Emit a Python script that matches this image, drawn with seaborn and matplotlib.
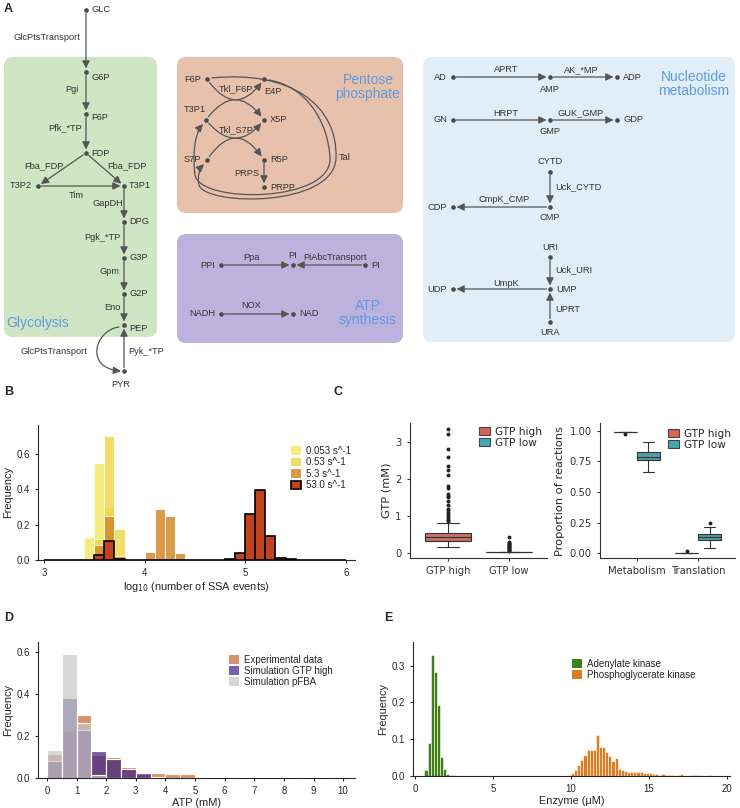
import numpy as np
import pandas as pd
import matplotlib
matplotlib.use("Agg")
import matplotlib.pyplot as plt
import seaborn as sns
from matplotlib.patches import FancyBboxPatch, FancyArrowPatch, Patch
from matplotlib.path import Path

# ---------------- data ----------------
# B: frequency of log10(number of SSA events), bins of 0.1 (left edges)
rate_labels = ["0.053 s^-1", "0.53 s^-1", "5.3 s^-1", "53.0 s^-1"]
rate0053_left = [3.3, 3.4, 3.5, 3.6]
rate0053_freq = [0.012, 0.13, 0.55, 0.30]
rate053_left = [3.5, 3.6, 3.7]
rate053_freq = [0.12, 0.70, 0.175]
rate53_left = [3.5, 3.6, 3.7, 4.0, 4.1, 4.2, 4.3]
rate53_freq = [0.085, 0.25, 0.025, 0.045, 0.29, 0.25, 0.04]
rate530_left = [3.5, 3.6, 3.7, 4.8, 4.9, 5.0, 5.1, 5.2, 5.3, 5.4]
rate530_freq = [0.03, 0.11, 0.005, 0.008, 0.04, 0.26, 0.395, 0.135, 0.012, 0.003]

# C left: GTP concentration (mM)
gtp_high_vals = [0.15, 0.22, 0.28, 0.33, 0.38, 0.42, 0.47, 0.53, 0.62, 0.72, 0.81]
gtp_high_counts = [1, 5, 8, 14, 10, 16, 10, 14, 1, 1, 1]
gtp_high_outliers = [0.86, 0.9, 0.95, 1.0, 1.05, 1.1, 1.15, 1.2, 1.3, 1.4, 1.5,
                     1.55, 1.6, 1.75, 1.8, 2.1, 2.25, 2.35, 2.6, 2.8, 3.2, 3.35]
gtp_low_vals = [0.015, 0.02, 0.025]
gtp_low_counts = [30, 40, 30]
gtp_low_outliers = [0.05, 0.07, 0.09, 0.11, 0.13, 0.15, 0.17, 0.19, 0.21, 0.23,
                    0.25, 0.27, 0.29, 0.42]

# C right: proportion of reactions
met_high = [0.975] + [0.99] * 15
met_low = [0.66, 0.70, 0.74, 0.76, 0.76, 0.77, 0.78, 0.79, 0.79, 0.80, 0.81,
           0.83, 0.83, 0.85, 0.88, 0.91]
trans_high = [0.02] + [0.005] * 15
trans_low = [0.04, 0.07, 0.09, 0.11, 0.11, 0.12, 0.12, 0.13, 0.13, 0.14, 0.15,
             0.16, 0.16, 0.18, 0.21, 0.245]

# D: ATP (mM), bins of 0.5
atp_labels = ["Experimental data", "Simulation GTP high", "Simulation pFBA"]
atp_exp_left = [0, 0.5, 1, 1.5, 2, 2.5, 3, 3.5, 4, 4.5, 6, 8.5, 9]
atp_exp_freq = [0.115, 0.225, 0.30, 0.11, 0.10, 0.053, 0.02, 0.022, 0.018, 0.017,
                0.003, 0.003, 0.003]
atp_high_left = [0, 0.5, 1, 1.5, 2, 2.5, 3, 3.5, 4]
atp_high_freq = [0.08, 0.38, 0.23, 0.13, 0.09, 0.045, 0.025, 0.007, 0.002]
atp_pfba_left = [0, 0.5, 1, 1.5]
atp_pfba_freq = [0.135, 0.59, 0.26, 0.012]

# E: enzyme (uM), bins of 0.2
enz_labels = ["Adenylate kinase", "Phosphoglycerate kinase"]
ak_left = [0.6, 0.8, 1.0, 1.2, 1.4, 1.6, 1.8, 2.0, 2.2, 2.4]
ak_freq = [0.015, 0.09, 0.33, 0.283, 0.193, 0.052, 0.018, 0.006, 0.002, 0.003]
pgk_freq = [0.003, 0.008, 0.017, 0.030, 0.044, 0.058, 0.070, 0.071, 0.071, 0.111,
            0.078, 0.078, 0.066, 0.053, 0.040, 0.048, 0.018, 0.015, 0.013, 0.011,
            0.011, 0.011, 0.010, 0.010, 0.009, 0.007, 0.008, 0.005, 0.006, 0.004,
            0.005, 0.003, 0.003, 0.002, 0.001, 0.002, 0.005, 0.001, 0.000, 0.004,
            0.004, 0.003, 0.002, 0.001, 0.001, 0.002, 0.001, 0.000, 0.001, 0.001]
pgk_left = list(np.round(9.8 + 0.2 * np.arange(len(pgk_freq)), 2))

# A: pathway diagram (node positions in pixels of the top panel)
nodes = {
    "GLC": (86, 10), "G6P": (86, 72), "F6P": (86, 114), "FDP": (86, 153),
    "T3P2": (38, 186), "T3P1": (124, 186), "DPG": (124, 222), "G3P": (124, 258),
    "G2P": (124, 294), "PEP": (124, 325), "PYR": (124, 371),
    "F6P_pp": (207, 79), "E4P": (264, 79), "T3P1_pp": (206, 120), "X5P": (264, 120),
    "S7P": (207, 160), "R5P": (264, 160), "PRPP": (264, 187),
    "PPI": (221, 265), "PI_c": (293, 265), "PI_r": (365, 265),
    "NADH": (221, 314), "NAD": (293, 314),
    "AD": (453, 77), "AMP": (550, 77), "ADP": (617, 77),
    "GN": (453, 120), "GMP": (550, 120), "GDP": (617, 120),
    "CYTD": (550, 172), "CMP": (550, 207), "CDP": (453, 207),
    "URI": (550, 257), "UMP": (550, 289), "UDP": (453, 289), "URA": (550, 322),
}
straight_edges = [
    ("GLC", "G6P"), ("G6P", "F6P"), ("F6P", "FDP"), ("FDP", "T3P2"), ("FDP", "T3P1"),
    ("T3P2", "T3P1"), ("T3P1", "DPG"), ("DPG", "G3P"), ("G3P", "G2P"), ("G2P", "PEP"),
    ("PYR", "PEP"), ("R5P", "PRPP"), ("PPI", "PI_c"), ("PI_r", "PI_c"), ("NADH", "NAD"),
    ("AD", "AMP"), ("AMP", "ADP"), ("GN", "GMP"), ("GMP", "GDP"), ("CYTD", "CMP"),
    ("CMP", "CDP"), ("URI", "UMP"), ("UMP", "UDP"), ("URA", "UMP"),
]
curved_edges = [("F6P_pp", "E4P", 0.72), ("T3P1_pp", "X5P", -0.69),
                ("T3P1_pp", "X5P", 0.62), ("S7P", "R5P", -0.76)]
node_texts = [
    ("GLC", 91, 10, "left"), ("G6P", 91, 78, "left"), ("F6P", 91, 118, "left"),
    ("FDP", 91, 153, "left"), ("T3P2", 32, 186, "right"), ("T3P1", 129, 186, "left"),
    ("DPG", 129, 222, "left"), ("G3P", 129, 258, "left"), ("G2P", 129, 294, "left"),
    ("PEP", 129, 329, "left"), ("PYR", 121, 385, "center"),
    ("F6P", 201, 79, "right"), ("E4P", 273, 91, "center"), ("T3P1", 195, 110, "center"),
    ("X5P", 270, 120, "left"), ("S7P", 201, 160, "right"), ("R5P", 270, 160, "left"),
    ("PRPP", 270, 187, "left"),
    ("PPI", 215, 265, "right"), ("PI", 293, 255, "center"), ("PI", 371, 265, "left"),
    ("NADH", 215, 314, "right"), ("NAD", 299, 314, "left"),
    ("AD", 447, 77, "right"), ("AMP", 550, 89, "center"), ("ADP", 623, 77, "left"),
    ("GN", 447, 120, "right"), ("GMP", 550, 132, "center"), ("GDP", 623, 120, "left"),
    ("CYTD", 550, 161, "center"), ("CMP", 550, 218, "center"), ("CDP", 447, 207, "right"),
    ("URI", 550, 248, "center"), ("UMP", 556, 289, "left"), ("UDP", 447, 289, "right"),
    ("URA", 550, 333, "center"),
]
edge_texts = [
    ("GlcPtsTransport", 47, 38, "center"), ("Pgi", 72, 90, "center"),
    ("Pfk_*TP", 65, 128, "center"), ("Fba_FDP", 44, 166, "center"),
    ("Fba_FDP", 127, 166, "center"), ("Tim", 76, 195, "center"),
    ("GapDH", 108, 204, "center"), ("Pgk_*TP", 102, 238, "center"),
    ("Gpm", 110, 272, "center"), ("Eno", 112, 308, "center"),
    ("GlcPtsTransport", 54, 352, "center"), ("Pyk_*TP", 146, 352, "center"),
    ("Tkl_F6P", 236, 89, "center"), ("Tkl_S7P", 236, 130, "center"),
    ("PRPS", 247, 173, "center"), ("Tal", 345, 157, "center"),
    ("Ppa", 251, 258, "center"), ("PiAbcTransport", 335, 258, "center"),
    ("NOX", 251, 306, "center"),
    ("APRT", 506, 70, "center"), ("AK_*MP", 581, 70, "center"),
    ("HRPT", 506, 113, "center"), ("GUK_GMP", 581, 113, "center"),
    ("Uck_CYTD", 555, 187, "left"), ("CmpK_CMP", 504, 200, "center"),
    ("Uck_URI", 555, 270, "left"), ("UmpK", 506, 283, "center"),
    ("UPRT", 555, 310, "left"),
]
regions = [
    ("Glycolysis", 4, 57, 157, 337, "#cfe5c4", 38, 323),
    ("Pentose\nphosphate", 177, 57, 403, 213, "#e8c1ad", 368, 87),
    ("ATP\nsynthesis", 177, 234, 403, 343, "#bdb2dd", 368, 313),
    ("Nucleotide\nmetabolism", 423, 57, 735, 342, "#e1eef8", 694, 84),
]

# ---------------- style ----------------
sns.set_style("ticks")
plt.rcParams["font.family"] = ["Liberation Sans", "DejaVu Sans"]
plt.rcParams["axes.linewidth"] = 0.8
plt.rcParams["xtick.major.width"] = 0.8
plt.rcParams["ytick.major.width"] = 0.8
plt.rcParams["xtick.major.size"] = 2.5
plt.rcParams["ytick.major.size"] = 2.5

W, H = 740, 808
fig = plt.figure(figsize=(W / 100, H / 100), dpi=100)

TICK = 6.9
LAB = 7.9
LEG = 7.0


def px_rect(l, t, r, b):
    return [l / W, 1 - b / H, (r - l) / W, (b - t) / H]


def weighted_hist(ax, left, freq, width, edges, **kw):
    df = pd.DataFrame({"x": [v + width / 2 for v in left], "w": freq})
    sns.histplot(data=df, x="x", weights="w", bins=list(edges), ax=ax, **kw)


TXT = "#333333"
BLUE = "#5c9be4"
ARR = "#555555"
ARROWSTYLE = "-|>,head_length=0.45,head_width=0.22"

# ---------------- A: diagram ----------------
axA = fig.add_axes([0, 1 - 392 / H, 1, 392 / H], zorder=0)
axA.set_xlim(0, 740)
axA.set_ylim(392, 0)
axA.axis("off")

for name, x0, y0, x1, y1, fc, tx, ty in regions:
    axA.add_patch(FancyBboxPatch((x0, y0), x1 - x0, y1 - y0,
                                 boxstyle="round,pad=0,rounding_size=9",
                                 fc=fc, ec="none", zorder=0))
    axA.text(tx, ty, name, ha="center", va="center", color=BLUE, fontsize=10,
             linespacing=1.0, zorder=5)

for a, b in straight_edges:
    axA.annotate("", xy=nodes[b], xytext=nodes[a],
                 arrowprops=dict(arrowstyle=ARROWSTYLE, color=ARR, lw=0.9,
                                 shrinkA=2.5, shrinkB=2.5), zorder=3)
for a, b, rad in curved_edges:
    axA.annotate("", xy=nodes[b], xytext=nodes[a],
                 arrowprops=dict(arrowstyle=ARROWSTYLE, color=ARR, lw=0.9,
                                 shrinkA=3, shrinkB=3,
                                 connectionstyle=f"arc3,rad={rad}"), zorder=3)


def path_arrow(verts):
    codes = [Path.MOVETO] + [Path.CURVE4] * (len(verts) - 1)
    axA.add_patch(FancyArrowPatch(path=Path(verts, codes), arrowstyle=ARROWSTYLE,
                                  mutation_scale=10, color=ARR, lw=0.9, zorder=3))


# Tal loops and PEP -> PYR transport
fx, fy = nodes["F6P_pp"]
sx, sy = nodes["S7P"]
path_arrow([(fx + 5, fy - 1), (290, fy - 9), (338, 105), (336, 158),
            (334, 208), (205, 206), (199, 185),
            (197, 176), (200, 168), (sx - 3, sy + 4)])
ex, ey = nodes["E4P"]
tx_, ty_ = nodes["T3P1_pp"]
path_arrow([(ex + 5, ey + 1), (305, 86), (328, 120), (330, 158),
            (332, 203), (200, 204), (195, 175),
            (192, 150), (196, 132), (tx_ - 3, ty_ + 4)])
px_, py_ = nodes["PEP"]
yx, yy = nodes["PYR"]
path_arrow([(px_ - 5, py_ + 2), (95, 330), (84, 368), (yx - 3, yy)])

xs = [p[0] for p in nodes.values()]
ys = [p[1] for p in nodes.values()]
axA.scatter(xs, ys, s=11, color="#4a4a4a", zorder=4, linewidths=0)
for t, x, y, ha in node_texts:
    axA.text(x, y, t, ha=ha, va="center", fontsize=6.7, color=TXT, zorder=5)
for t, x, y, ha in edge_texts:
    axA.text(x, y, t, ha=ha, va="center", fontsize=6.7, color=TXT, zorder=5)

# ---------------- B ----------------
axB = fig.add_axes(px_rect(38, 425, 355, 560))
ssa_edges = np.round(np.arange(3.0, 6.05, 0.1), 2)
b_series = [
    (rate0053_left, rate0053_freq, "#f3e552", 0.75, "white", 0.6),
    (rate053_left, rate053_freq, "#ecd43a", 0.75, "white", 0.6),
    (rate53_left, rate53_freq, "#d3892a", 0.85, "white", 0.6),
    (rate530_left, rate530_freq, "#c1441f", 1.0, "black", 1.2),
]
for left, freq, col, al, ec, lw in b_series:
    weighted_hist(axB, left, freq, 0.1, ssa_edges, color=col, alpha=al,
                  edgecolor=ec, linewidth=lw)
axB.set_xlim(2.94, 6.09)
axB.set_ylim(0, 0.765)
axB.set_xticks([3, 4, 5, 6])
axB.set_yticks([0, 0.2, 0.4, 0.6])
axB.set_yticklabels(["0.0", "0.2", "0.4", "0.6"])
axB.tick_params(labelsize=TICK)
axB.set_xlabel(r"log$_{10}$ (number of SSA events)", fontsize=LAB, labelpad=1)
axB.set_ylabel("Frequency", fontsize=LAB, labelpad=2)
sns.despine(ax=axB)
b_handles = [Patch(fc=c, alpha=a, ec=("black" if e == "black" else "none"), lw=1.2)
             for _, _, c, a, e, _ in b_series]
fig.legend(b_handles, rate_labels, loc="upper left", bbox_to_anchor=(291 / W, 1 - 446 / H),
           frameon=False, fontsize=LEG, handlelength=1.0, handleheight=1.0,
           handletextpad=0.5, labelspacing=0.15, borderpad=0, borderaxespad=0)

# ---------------- C ----------------
c_pal = {"GTP high": "#d9625a", "GTP low": "#47a7b0"}
gtp_df = pd.DataFrame({
    "group": ["GTP high"] * (sum(gtp_high_counts) + len(gtp_high_outliers))
    + ["GTP low"] * (sum(gtp_low_counts) + len(gtp_low_outliers)),
    "gtp": list(np.repeat(gtp_high_vals, gtp_high_counts)) + gtp_high_outliers
    + list(np.repeat(gtp_low_vals, gtp_low_counts)) + gtp_low_outliers,
})
flier = dict(marker="o", markerfacecolor="#222222", markeredgecolor="#222222")
cfont = ["DejaVu Sans"]

axC1 = fig.add_axes(px_rect(410, 423, 547, 558))
sns.boxplot(data=gtp_df, x="group", y="gtp", hue="group", palette=c_pal,
            width=0.74, linewidth=0.8, linecolor="#333333", fliersize=1.8,
            flierprops=flier, legend=False, ax=axC1)
axC1.set_xlim(-0.62, 1.62)
axC1.set_ylim(-0.135, 3.51)
axC1.set_yticks([0, 1, 2, 3])
axC1.set_xlabel("")
axC1.set_ylabel("GTP (mM)", fontsize=8.2, family=cfont, labelpad=3)

prop_df = pd.DataFrame({
    "category": ["Metabolism"] * (len(met_high) + len(met_low))
    + ["Translation"] * (len(trans_high) + len(trans_low)),
    "condition": ["GTP high"] * len(met_high) + ["GTP low"] * len(met_low)
    + ["GTP high"] * len(trans_high) + ["GTP low"] * len(trans_low),
    "value": met_high + met_low + trans_high + trans_low,
})
axC2 = fig.add_axes(px_rect(600, 423, 735, 558))
sns.boxplot(data=prop_df, x="category", y="value", hue="condition",
            hue_order=["GTP high", "GTP low"], palette=c_pal, width=0.75,
            linewidth=0.8, linecolor="#333333", fliersize=1.8, flierprops=flier,
            legend=False, ax=axC2)
axC2.set_xlim(-0.6, 1.6)
axC2.set_ylim(-0.04, 1.065)
axC2.set_yticks([0, 0.25, 0.5, 0.75, 1.0])
axC2.set_yticklabels(["0.00", "0.25", "0.50", "0.75", "1.00"])
axC2.set_xlabel("")
axC2.set_ylabel("Proportion of reactions", fontsize=8.2, family=cfont, labelpad=3)

for ax in (axC1, axC2):
    sns.despine(ax=ax)
    for sp in ax.spines.values():
        sp.set_color("#333333")
    ax.tick_params(labelsize=7.2, colors="#333333")
    for lab in ax.get_xticklabels() + ax.get_yticklabels():
        lab.set_family(cfont)

c_handles = [Patch(fc=c_pal[k], ec="#444444", lw=0.8) for k in c_pal]
for x0, y0 in [(479, 427), (668, 429)]:
    fig.legend(c_handles, list(c_pal), loc="upper left", bbox_to_anchor=(x0 / W, 1 - y0 / H),
               frameon=False, prop=dict(family=cfont, size=7.6), handlelength=1.0,
               handleheight=0.8, handletextpad=0.5, labelspacing=0.1, borderpad=0,
               borderaxespad=0)

# ---------------- D ----------------
axD = fig.add_axes(px_rect(38, 642, 355, 778))
atp_edges = np.arange(0, 10.5, 0.5)
d_series = [
    (atp_exp_left, atp_exp_freq, "#c8622a"),
    (atp_high_left, atp_high_freq, "#3d1f86"),
    (atp_pfba_left, atp_pfba_freq, "#c6c6c6"),
]
for left, freq, col in d_series:
    weighted_hist(axD, left, freq, 0.5, atp_edges, color=col, alpha=0.7,
                  edgecolor="white", linewidth=0.8)
axD.set_xlim(-0.3, 10.4)
axD.set_ylim(0, 0.648)
axD.set_xticks(range(0, 11))
axD.set_yticks([0, 0.2, 0.4, 0.6])
axD.set_yticklabels(["0.0", "0.2", "0.4", "0.6"])
axD.tick_params(labelsize=TICK)
axD.set_xlabel("ATP (mM)", fontsize=LAB, labelpad=1)
axD.set_ylabel("Frequency", fontsize=LAB, labelpad=2)
sns.despine(ax=axD)
d_handles = [Patch(fc=c, alpha=0.7, ec="none") for _, _, c in d_series]
fig.legend(d_handles, atp_labels, loc="upper left", bbox_to_anchor=(229 / W, 1 - 655 / H),
           frameon=False, fontsize=LEG, handlelength=1.0, handleheight=1.0,
           handletextpad=0.5, labelspacing=0.1, borderpad=0, borderaxespad=0)

# ---------------- E ----------------
axE = fig.add_axes(px_rect(413, 642, 730, 776))
e_series = [(ak_left, ak_freq, "#3f7f16"), (pgk_left, pgk_freq, "#e07d22")]
for left, freq, col in e_series:
    edges = np.round(np.append(np.array(left), left[-1] + 0.2), 2)
    weighted_hist(axE, left, freq, 0.2, edges, color=col, alpha=1,
                  edgecolor="white", linewidth=0.4)
axE.set_xlim(-0.13, 20.2)
axE.set_ylim(0, 0.364)
axE.set_xticks([0, 5, 10, 15, 20])
axE.set_yticks([0, 0.1, 0.2, 0.3])
axE.set_yticklabels(["0.0", "0.1", "0.2", "0.3"])
axE.tick_params(labelsize=TICK)
axE.set_xlabel("Enzyme (\u03bcM)", fontsize=LAB, labelpad=1)
axE.set_ylabel("Frequency", fontsize=LAB, labelpad=2)
sns.despine(ax=axE)
e_handles = [Patch(fc=c, ec="none") for _, _, c in e_series]
fig.legend(e_handles, enz_labels, loc="upper left", bbox_to_anchor=(572 / W, 1 - 659 / H),
           frameon=False, fontsize=LEG, handlelength=1.0, handleheight=1.0,
           handletextpad=0.5, labelspacing=0.1, borderpad=0, borderaxespad=0)

# ---------------- panel letters ----------------
for letter, x, y in [("A", 4, 9), ("B", 4, 392), ("C", 334, 392), ("D", 4, 618), ("E", 384, 618)]:
    fig.text(x / W, 1 - y / H, letter, fontsize=9, fontweight="bold", va="center", ha="left")

fig.savefig("out.png", dpi=100)
